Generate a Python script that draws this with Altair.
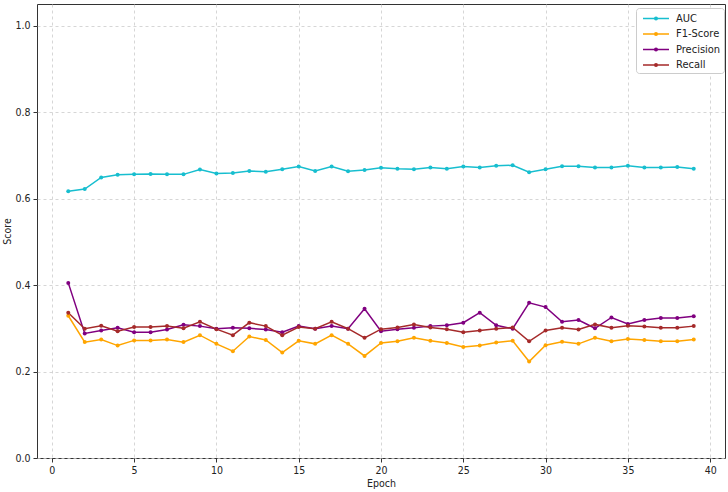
import altair as alt
import pandas as pd

epochs = list(range(1, 40))
auc = [0.617, 0.622, 0.649, 0.655, 0.656, 0.657, 0.656, 0.656, 0.667, 0.658,
       0.659, 0.664, 0.662, 0.668, 0.674, 0.664, 0.674, 0.663, 0.666, 0.671,
       0.669, 0.668, 0.672, 0.669, 0.674, 0.672, 0.676, 0.677, 0.661, 0.668,
       0.675, 0.675, 0.672, 0.672, 0.676, 0.672, 0.672, 0.673, 0.669]
f1 = [0.329, 0.268, 0.274, 0.260, 0.272, 0.272, 0.274, 0.268, 0.284, 0.264,
      0.247, 0.281, 0.273, 0.244, 0.271, 0.264, 0.284, 0.264, 0.236, 0.266,
      0.270, 0.278, 0.271, 0.266, 0.257, 0.260, 0.267, 0.271, 0.223, 0.261,
      0.269, 0.264, 0.278, 0.270, 0.275, 0.273, 0.270, 0.270, 0.274]
precision = [0.405, 0.288, 0.295, 0.301, 0.291, 0.291, 0.297, 0.308, 0.305, 0.299,
             0.301, 0.300, 0.297, 0.291, 0.305, 0.299, 0.305, 0.299, 0.345, 0.293,
             0.298, 0.301, 0.305, 0.307, 0.313, 0.336, 0.307, 0.299, 0.359, 0.349,
             0.315, 0.319, 0.300, 0.325, 0.310, 0.319, 0.324, 0.324, 0.328]
recall = [0.336, 0.299, 0.306, 0.293, 0.303, 0.303, 0.305, 0.300, 0.315, 0.298,
          0.284, 0.313, 0.305, 0.284, 0.303, 0.299, 0.315, 0.299, 0.278, 0.298,
          0.302, 0.309, 0.302, 0.298, 0.291, 0.295, 0.299, 0.302, 0.270, 0.295,
          0.301, 0.297, 0.309, 0.301, 0.306, 0.304, 0.301, 0.301, 0.305]

metrics = ["AUC", "F1-Score", "Precision", "Recall"]
colors = ["#17becf", "#ffa500", "#800080", "#a52a2a"]

rows = []
for name, vals in zip(metrics, [auc, f1, precision, recall]):
    for e, v in zip(epochs, vals):
        rows.append({"Epoch": e, "Score": v, "Metric": name})
df = pd.DataFrame(rows)

font = "DejaVu Sans Condensed"
x = alt.X("Epoch:Q", scale=alt.Scale(domain=[-0.9, 40.9], nice=False, zero=False),
          axis=alt.Axis(values=[0, 5, 10, 15, 20, 25, 30, 35, 40], title="Epoch", format="d"))
y = alt.Y("Score:Q", scale=alt.Scale(domain=[0, 1.05], nice=False),
          axis=alt.Axis(values=[0, 0.2, 0.4, 0.6, 0.8, 1.0], format=".1f", title="Score",
                        titleX=-30, titleY=227, titleBaseline="middle", titleAlign="center"))

legend_path = "M-2,0H2M0.2,0A0.2,0.2 0 1,1 -0.2,0A0.2,0.2 0 1,1 0.2,0"

lines = alt.Chart(df).mark_line(strokeWidth=1.5).encode(
    x=x, y=y,
    color=alt.Color("Metric:N", scale=alt.Scale(domain=metrics, range=colors),
                    legend=alt.Legend(title=None, orient="none", legendX=599, legendY=4,
                                      symbolType=legend_path, symbolSize=169,
                                      symbolStrokeWidth=1.5, symbolOffset=9.5,
                                      labelFontSize=11, labelFont=font, labelColor="#222",
                                      rowPadding=2.5, padding=3, fillColor="white",
                                      strokeColor="#cccccc", cornerRadius=3,
                                      labelOffset=12.5)),
)
points = alt.Chart(df).mark_point(filled=True, size=16, opacity=1).encode(
    x=x, y=y,
    color=alt.Color("Metric:N", scale=alt.Scale(domain=metrics, range=colors), legend=None),
)

chart = alt.layer(lines, points).resolve_legend(color="independent").properties(
    width=688, height=454,
    autosize=alt.AutoSizeParams(type="none"),
    padding={"left": 37, "top": 4, "right": 3, "bottom": 34},
).configure_view(stroke="#333", strokeWidth=1).configure_axis(
    grid=True, gridColor="#cccccc", gridDash=[3, 3], gridWidth=0.8,
    domain=False, tickColor="#333", tickSize=4, labelFont=font, titleFont=font,
    labelFontSize=10.5, titleFontSize=10.5, labelColor="#222", titleColor="#222",
    titleFontWeight="normal", labelPadding=3,
).configure_axisX(titlePadding=3)

chart.save("out.html", embed_options={"renderer": "svg", "actions": False})
